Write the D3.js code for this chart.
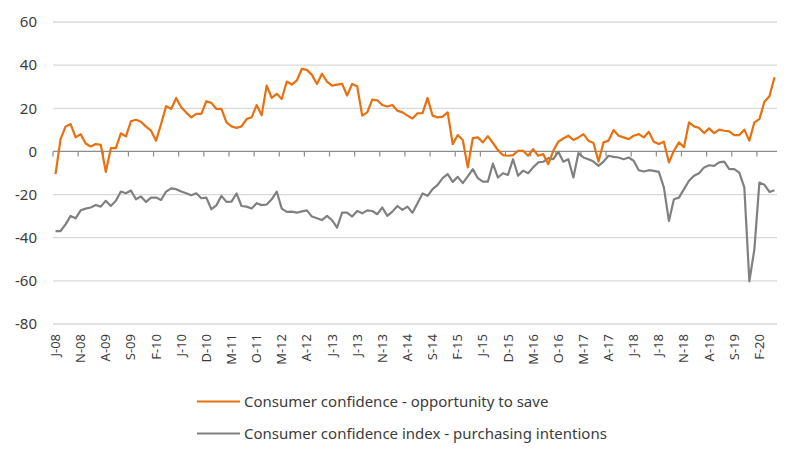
<!DOCTYPE html>
<html>
<head>
<meta charset="utf-8">
<script src="https://cdn.jsdelivr.net/npm/d3@7/dist/d3.min.js"></script>
<style>
  body { margin: 0; background: #fff; }
  svg { display: block; font-family: "Noto Sans", "Open Sans", sans-serif; }
</style>
</head>
<body>
<svg id="chart" width="800" height="460"></svg>
<script>
// Monthly observations, Jun 2008 .. May 2020
const startMonth = new Date(2008, 5, 1);
const seriesNames = [
  "Consumer confidence - opportunity to save",
  "Consumer confidence index - purchasing intentions"
];
const opportunityToSave = [
  -10.5, 5.7, 11.5, 12.7, 6.5, 8, 3.7, 2.3, 3.4, 3.1,
  -9.5, 1.5, 1.5, 8.4, 7, 14, 14.7, 13.8, 11.5, 9.6,
  5, 12.7, 21, 19.7, 24.8, 20.5, 18, 15.8, 17.4, 17.4,
  23.3, 22.5, 19.7, 19.7, 13.5, 11.6, 10.9, 11.6, 15, 15.8,
  21.5, 16.8, 30.5, 24.8, 26.7, 24.3, 32.4, 31, 32.9, 38.3,
  37.8, 35.5, 31.3, 36, 32.4, 30.5, 31, 31.3, 25.9, 31.3,
  30.2, 16.6, 18.1, 24, 23.7, 21.5, 20.8, 21.5, 18.9, 18.1,
  16.6, 15.3, 17.7, 17.8, 24.8, 16.6, 15.8, 16.1, 18.1, 3.4,
  7.6, 5.3, -7.4, 6.2, 6.5, 4.2, 7.1, 3.9, 0.6, -1.7,
  -2, -1.7, 0.3, 0.3, -2, 1.1, -2, -1.2, -5.9, 0.3,
  4.5, 6, 7.3, 5.3, 6.5, 8, 5, 3.9, -4.7, 4.2,
  5, 9.9, 7.3, 6.5, 5.7, 7.3, 8, 6.5, 9.1, 4.5,
  3.4, 4.5, -5.1, 0.3, 4.2, 1.9, 13.5, 11.6, 10.9, 8.5,
  10.7, 8.5, 10.1, 9.6, 9.3, 7.6, 7.6, 10.1, 5, 13.5,
  15, 23, 25.6, 34.4
];
const purchasingIntentions = [
  -36.9, -36.9, -33.8, -29.9, -31, -27.3, -26.5, -26, -24.8, -25.6,
  -22.9, -25.3, -22.9, -18.6, -19.4, -18.1, -22.2, -20.9, -23.4, -21.4,
  -21.4, -22.5, -18.6, -17.1, -17.5, -18.6, -19.4, -20.3, -19.4, -21.7,
  -21.4, -26.8, -25, -20.6, -23.4, -23.3, -19.5, -25.3, -25.6, -26.5,
  -24, -24.9, -24.6, -22.2, -18.6, -26.5, -28, -27.9, -28.4, -27.8,
  -27.3, -30.2, -31, -31.8, -29.9, -31.9, -35.3, -28.4, -28.4, -30.2,
  -27.6, -28.7, -27.3, -27.6, -29.1, -26, -29.9, -27.9, -25.3, -27.1,
  -25.6, -28.4, -24, -19.5, -20.6, -17.5, -15.5, -12.4, -10.5, -14.1,
  -11.8, -14.7, -11.6, -8.2, -12.4, -14, -14, -5.6, -12.1, -10.1,
  -10.9, -3.6, -11.3, -8.9, -10.1, -7.4, -5.1, -4.8, -3.1, -3.6,
  -0.2, -4.8, -3.6, -12.1, -0.8, -2.8, -3.6, -4.7, -6.7, -4.7,
  -2, -2.5, -2.8, -3.6, -2.8, -4.3, -8.7, -9.3, -8.7, -9,
  -9.5, -16.7, -32.2, -22.2, -21.4, -17.5, -13.6, -11.3, -10.1, -7.4,
  -6.4, -6.7, -5.1, -4.7, -8.2, -8.2, -9.8, -16.7, -60.2, -45.4,
  -14.4, -15.5, -18.8, -18
];
const yTicks = [60, 40, 20, 0, -20, -40, -60, -80];
const xTickLabels = ["J-08","N-08","A-09","S-09","F-10","J-10","D-10","M-11","O-11","M-12",
  "A-12","J-13","J-13","N-13","A-14","S-14","F-15","J-15","D-15","M-16",
  "O-16","M-17","A-17","J-18","J-18","N-18","A-19","S-19","F-20"];
const tickEvery = 5;

const months = d3.range(opportunityToSave.length).map(i => d3.timeMonth.offset(startMonth, i));

const svg = d3.select("#chart");
const mLeft = 53, mRight = 777, mTop = 22, mBottom = 324;

const x = d3.scaleBand().domain(d3.range(months.length)).range([mLeft, mRight]).padding(0);
const xc = i => x(i) + x.bandwidth() / 2;
const y = d3.scaleLinear().domain([-80, 60]).range([mBottom, mTop]);

// gridlines
svg.append("g").selectAll("line").data(yTicks.filter(v => v !== 0)).join("line")
  .attr("x1", mLeft).attr("x2", mRight)
  .attr("y1", d => y(d)).attr("y2", d => y(d))
  .attr("stroke", "#d9d9d9").attr("stroke-width", 1.3);

// y labels
svg.append("g").selectAll("text").data(yTicks).join("text")
  .attr("x", 37).attr("y", d => y(d)).attr("dy", "0.35em")
  .attr("text-anchor", "end").attr("font-size", 15).attr("fill", "#3c3c3c")
  .text(d => d);

// zero axis with ticks at band boundaries
const zeroY = y(0);
svg.append("line").attr("x1", mLeft).attr("x2", mRight).attr("y1", zeroY).attr("y2", zeroY)
  .attr("stroke", "#8c8c8c").attr("stroke-width", 1.2);
const tickIdx = xTickLabels.map((_, k) => k * tickEvery);
svg.append("g").selectAll("line").data(tickIdx).join("line")
  .attr("x1", d => x(d)).attr("x2", d => x(d))
  .attr("y1", zeroY).attr("y2", zeroY + 5)
  .attr("stroke", "#8c8c8c").attr("stroke-width", 1.2);

// x labels
svg.append("g").selectAll("text").data(tickIdx).join("text")
  .attr("transform", d => `translate(${xc(d) + 4.5},334) rotate(-90)`)
  .attr("text-anchor", "end").attr("font-size", 13).attr("fill", "#3c3c3c")
  .text((d, k) => xTickLabels[k]);

// lines
const line = d3.line().x((d, i) => xc(i)).y(d => y(d));
svg.append("path").datum(purchasingIntentions).attr("d", line)
  .attr("fill", "none").attr("stroke", "#808080").attr("stroke-width", 2.2)
  .attr("stroke-linejoin", "round");
svg.append("path").datum(opportunityToSave).attr("d", line)
  .attr("fill", "none").attr("stroke", "#e8700f").attr("stroke-width", 2.2)
  .attr("stroke-linejoin", "round");

// legend
const legendColors = ["#e8700f", "#808080"];
const lg = svg.append("g").selectAll("g").data(seriesNames).join("g")
  .attr("transform", (d, i) => `translate(197,${401.5 + i * 32})`);
lg.append("line").attr("x1", 0).attr("x2", 43).attr("y1", 0).attr("y2", 0)
  .attr("stroke", (d, i) => legendColors[i]).attr("stroke-width", 2.2);
lg.append("text").attr("x", 47).attr("y", 0).attr("dy", "0.35em")
  .attr("font-size", 15).attr("fill", "#3c3c3c").text(d => d);
</script>
</body>
</html>
